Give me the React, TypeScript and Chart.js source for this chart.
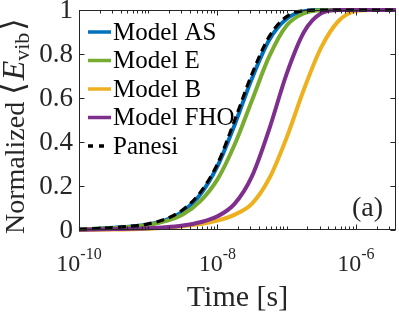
import React, { useEffect, useRef } from "react";
import { Chart, registerables } from "chart.js";
Chart.register(...registerables);

// time grid [s]
const times = [1e-10, 3.16e-10, 1e-9, 1.78e-9, 3.16e-9, 5.62e-9, 1e-8, 1.78e-8, 3.16e-8, 5.62e-8, 1e-7, 1.78e-7, 3.16e-7, 5.62e-7, 1e-6, 1.78e-6, 3.8e-6];
const modelAS = [0.002, 0.01, 0.025, 0.045, 0.085, 0.16, 0.29, 0.48, 0.69, 0.865, 0.96, 0.995, 1, 1, 1, 1, 1];
const modelE = [0.002, 0.009, 0.023, 0.04, 0.07, 0.13, 0.23, 0.39, 0.59, 0.79, 0.93, 0.985, 0.999, 1, 1, 1, 1];
const modelB = [0.0005, 0.002, 0.006, 0.01, 0.017, 0.027, 0.043, 0.07, 0.12, 0.235, 0.42, 0.64, 0.83, 0.95, 0.995, 1, 1];
const modelFHO = [0.001, 0.004, 0.008, 0.012, 0.02, 0.035, 0.062, 0.12, 0.245, 0.46, 0.71, 0.9, 0.985, 1, 1, 1, 1];
const panesi = [0.003, 0.011, 0.028, 0.05, 0.092, 0.17, 0.3, 0.5, 0.71, 0.88, 0.97, 0.997, 1, 1, 1, 1, 1];

const seriesLabels = ["Model AS", "Model E", "Model B", "Model FHO", "Panesi"];
const seriesColors = ["#0072BD", "#77AC30", "#EDB120", "#7E2F8E", "#000000"];

const X_MIN = 1e-10;
const X_MAX = 3.8e-6;
const yTickValues = [0, 0.2, 0.4, 0.6, 0.8, 1];
const yTickLabels = ["0", "0.2", "0.4", "0.6", "0.8", "1"];
const xMajorExponents = [-10, -8, -6];
const xTitle = "Time [s]";
const yTitleMain = "Normalized ";
const panelLabel = "(a)";

const SERIF = "'Liberation Serif', 'Times New Roman', serif";
const AXIS_COLOR = "#262626";

const framePlugin = {
  id: "matlabFrame",
  afterDatasetsDraw(chart: any) {
    const { ctx, chartArea: a, scales } = chart;
    const xs = scales.x;
    const ys = scales.y;
    const L = Math.round(a.left) + 0.5;
    const R = Math.round(a.right) - 0.5;
    const T = Math.round(a.top) + 0.5;
    const B = Math.round(a.bottom) - 0.5;
    ctx.save();
    ctx.strokeStyle = AXIS_COLOR;
    ctx.lineWidth = 1;
    ctx.beginPath();
    for (const v of yTickValues) {
      const py = Math.round(ys.getPixelForValue(v)) + 0.5;
      ctx.moveTo(L, py); ctx.lineTo(L + 5, py);
      ctx.moveTo(R, py); ctx.lineTo(R - 5, py);
    }
    for (let e = -10; e <= -6; e++) {
      for (let k = 1; k <= 9; k++) {
        const t = k * Math.pow(10, e);
        if (t < X_MIN || t > X_MAX) continue;
        const px = Math.round(xs.getPixelForValue(t)) + 0.5;
        const len = k === 1 && xMajorExponents.includes(e) ? 5 : 3;
        ctx.moveTo(px, B); ctx.lineTo(px, B - len);
        ctx.moveTo(px, T); ctx.lineTo(px, T + len);
      }
    }
    ctx.stroke();
    ctx.strokeRect(L, T, R - L, B - T);

    ctx.fillStyle = AXIS_COLOR;
    ctx.font = `27px ${SERIF}`;
    ctx.textAlign = "right";
    ctx.textBaseline = "middle";
    yTickValues.forEach((v, i) => {
      ctx.fillText(yTickLabels[i], a.left - 6, ys.getPixelForValue(v) + 1);
    });
    ctx.textBaseline = "alphabetic";
    ctx.textAlign = "left";
    for (const e of xMajorExponents) {
      const px = xs.getPixelForValue(Math.pow(10, e));
      ctx.font = `24px ${SERIF}`;
      const wb = ctx.measureText("10").width;
      ctx.font = `16px ${SERIF}`;
      const sup = "-" + String(-e);
      const ws = ctx.measureText(sup).width;
      const x0 = px - (wb + ws) / 2;
      ctx.font = `24px ${SERIF}`;
      ctx.fillText("10", x0, 271);
      ctx.font = `16px ${SERIF}`;
      ctx.fillText(sup, x0 + wb, 259);
    }
    ctx.font = `30px ${SERIF}`;
    ctx.textAlign = "center";
    ctx.fillText(xTitle, (a.left + a.right) / 2, 306);
    ctx.save();
    ctx.translate(24, 234);
    ctx.rotate(-Math.PI / 2);
    ctx.textAlign = "left";
    let cx = 0;
    ctx.font = `28px ${SERIF}`;
    ctx.fillText(yTitleMain, cx, 0);
    cx += ctx.measureText(yTitleMain).width;
    ctx.font = `32px 'DejaVu Serif', ${SERIF}`;
    ctx.fillText("\u27E8", cx, 0);
    cx += ctx.measureText("\u27E8").width + 2;
    ctx.font = `italic 32px ${SERIF}`;
    ctx.fillText("E", cx, 0);
    cx += ctx.measureText("E").width;
    ctx.font = `22px ${SERIF}`;
    ctx.fillText("vib", cx, 5);
    cx += ctx.measureText("vib").width + 2;
    ctx.font = `32px 'DejaVu Serif', ${SERIF}`;
    ctx.fillText("\u27E9", cx, 0);
    ctx.restore();
    ctx.font = `28px ${SERIF}`;
    ctx.textAlign = "right";
    ctx.fillText(panelLabel, 383, 216);

    ctx.textAlign = "left";
    ctx.textBaseline = "middle";
    chart.data.datasets.forEach((ds: any, i: number) => {
      const cy = 32 + i * 28.5;
      const dashed = ds.borderDash && ds.borderDash.length;
      ctx.save();
      ctx.strokeStyle = ds.borderColor;
      ctx.lineWidth = 3.5;
      if (dashed) ctx.setLineDash([5, 6]);
      ctx.beginPath();
      ctx.moveTo(88, cy);
      ctx.lineTo(dashed ? 105 : 111, cy);
      ctx.stroke();
      ctx.restore();
      ctx.fillStyle = "#000";
      ctx.font = `25px ${SERIF}`;
      ctx.fillText(ds.label, 113, cy + 1);
    });
    ctx.restore();
  },
};

export default function App() {
  const ref = useRef<HTMLCanvasElement | null>(null);
  useEffect(() => {
    document.body.style.margin = "0";
    const canvas = ref.current!;
    const series = [modelAS, modelE, modelB, modelFHO, panesi];
    const chart = new Chart(canvas, {
      type: "line",
      data: {
        datasets: series.map((vals, i) => ({
          label: seriesLabels[i],
          data: times.map((t, j) => ({ x: t, y: vals[j] })),
          borderColor: seriesColors[i],
          backgroundColor: seriesColors[i],
          borderWidth: i === 4 ? 3.2 : 4,
          borderDash: i === 4 ? [8, 5] : [],
          pointRadius: 0,
          cubicInterpolationMode: "monotone" as const,
          fill: false,
          clip: 4,
          order: 4 - i,
        })),
      },
      options: {
        responsive: false,
        animation: false,
        devicePixelRatio: 1,
        layout: { padding: { left: 79, top: 10, right: 3, bottom: 83 } },
        plugins: { legend: { display: false }, tooltip: { enabled: false } },
        scales: {
          x: { type: "logarithmic", min: X_MIN, max: X_MAX, display: false },
          y: { type: "linear", min: 0, max: 1, display: false },
        },
      },
      plugins: [framePlugin],
    });
    return () => chart.destroy();
  }, []);
  return (
    <div style={{ width: 399, height: 313, background: "#fff" }}>
      <canvas ref={ref} width={399} height={313} />
    </div>
  );
}
